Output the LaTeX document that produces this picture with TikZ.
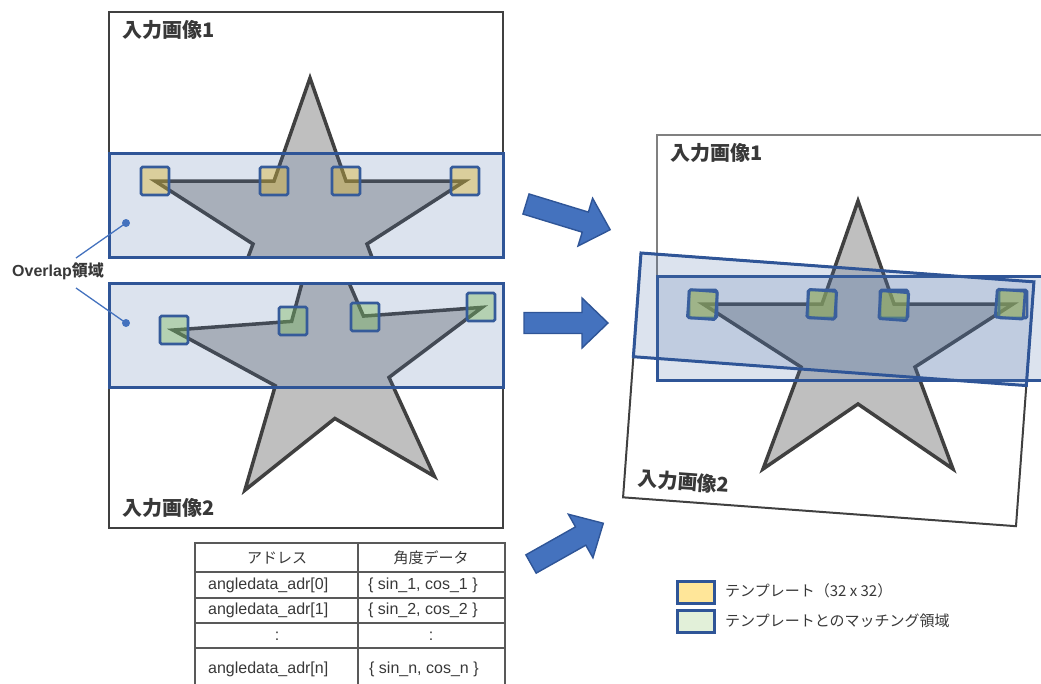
\documentclass[tikz,border=0pt]{standalone}
\usepackage{fontspec}
\setmainfont{Liberation Sans}
\newfontfamily\jp{Noto Sans CJK JP}
\definecolor{starfill}{RGB}{191,191,191}
\definecolor{staredge}{RGB}{64,64,64}
\definecolor{ovfill}{RGB}{80,115,170}
\definecolor{ovedge}{RGB}{47,85,151}
\definecolor{tplY}{RGB}{249,192,0}
\definecolor{tplG}{RGB}{132,200,70}
\definecolor{arrfill}{RGB}{68,114,190}
\definecolor{txtgray}{RGB}{56,56,56}
\definecolor{framegray}{RGB}{128,128,128}
\definecolor{tblline}{RGB}{89,89,89}
\definecolor{legY}{RGB}{255,230,153}
\definecolor{legG}{RGB}{226,240,217}
\newcommand{\starshape}[1]{\path[#1] (201,66) -- (237,169) -- (356,169) -- (258,232) -- (296,334) -- (201,269) -- (106,334) -- (144,232) -- (46,169) -- (165,169) -- cycle;}
\newcommand{\blockarrow}[3]{%
  \begin{scope}[shift={(#1)}, rotate=#2]
    \path[arrsty] (0,-10.5) -- ({#3-26},-10.5) -- ({#3-26},-25) -- (#3,0) -- ({#3-26},25) -- ({#3-26},10.5) -- (0,10.5) -- cycle;
  \end{scope}}
\tikzset{
  starsty/.style={fill=starfill, draw=staredge, line width=3.5pt, line join=miter, miter limit=20},
  ovsty/.style={fill=ovfill, fill opacity=0.2, draw=ovedge, line width=3pt},
  tplsq/.style={draw=ovedge, line width=2.8pt, rounded corners=1.5pt, minimum size=28pt, inner sep=0pt, fill opacity=0.4},
  framesty/.style={draw=staredge, line width=2pt},
  titlesty/.style={text=txtgray, font=\jp\bfseries\fontsize{20}{24}\selectfont, inner sep=0pt, anchor=west},
  arrsty/.style={fill=arrfill, draw=ovedge, line width=1.4pt, line join=miter},
  ptr/.style={draw=arrfill, line width=1.3pt},
  tbl/.style={draw=tblline, line width=2.2pt},
  celltxt/.style={text=txtgray, font=\fontsize{16}{19}\selectfont, inner sep=0pt},
  jptxt/.style={text=txtgray, font=\jp\fontsize{15}{18}\selectfont, inner sep=0pt},
  legbox/.style={draw=ovedge, line width=3pt, minimum width=37pt, minimum height=22pt, inner sep=0pt},
}
\begin{document}
\begin{tikzpicture}[x=1pt, y=-1pt]
\useasboundingbox (0,0) rectangle (1041,683);

% ---------- left panel: image 1 ----------
\begin{scope}[shift={(109,12)}]
  \draw[framesty] (0,0) rectangle (394,245);
  \begin{scope}
    \clip (0,0) rectangle (394,245);
    \starshape{starsty}
  \end{scope}
  \node[tplsq, fill=tplY] (a1) at (46,169) {};
  \node[tplsq, fill=tplY] (a2) at (165,169) {};
  \node[tplsq, fill=tplY] (a3) at (237,169) {};
  \node[tplsq, fill=tplY] (a4) at (356,169) {};
  \path[ovsty] (0,141) rectangle (394,245);
  \node[titlesty] (t1) at (13,18) {入力画像1};
\end{scope}

% ---------- left panel: image 2 ----------
\begin{scope}[shift={(109,283)}]
  \draw[framesty] (0,0) rectangle (394,245);
  \begin{scope}
    \clip (0,0) rectangle (394,245);
    \begin{scope}[shift={(211,-67)}, rotate=4.2, shift={(-201,-66)}]
      \starshape{starsty}
    \end{scope}
  \end{scope}
  \node[tplsq, fill=tplG] (b1) at (65,47) {};
  \node[tplsq, fill=tplG] (b2) at (184,38) {};
  \node[tplsq, fill=tplG] (b3) at (256,34) {};
  \node[tplsq, fill=tplG] (b4) at (372,24) {};
  \path[ovsty] (0,0) rectangle (394,104);
  \node[titlesty] (t2) at (13,225) {入力画像2};
\end{scope}

% ---------- overlap label ----------
\node[text=txtgray, font=\bfseries\fontsize{16}{19}\selectfont, inner sep=0pt] (ovl) at (58,271) {Overlap{\jp 領域}};
\coordinate (p1) at (76,258);
\coordinate (q1) at (126,223);
\coordinate (p2) at (76,288);
\coordinate (q2) at (126,323);
\draw[ptr] (p1) -- (q1);
\draw[ptr] (p2) -- (q2);
\fill[arrfill] (q1) circle (4);
\fill[arrfill] (q2) circle (4);

% ---------- arrows ----------
\blockarrow{526,204}{-17}{88}
\blockarrow{524,323}{0}{84}
\blockarrow{531,564}{29.4}{83}

% ---------- right panel ----------
\draw[framesty, draw=framegray] (657,135) rectangle (1051,380);
\begin{scope}[shift={(641,253)}, rotate=-4.2]
  \draw[framesty] (0,0) rectangle (394,245);
\end{scope}
\begin{scope}[shift={(657,135)}]
  \starshape{starsty}
  \node[tplsq, fill=tplY] (c1) at (46,169) {};
  \node[tplsq, fill=tplY] (c2) at (165,169) {};
  \node[tplsq, fill=tplY] (c3) at (237,169) {};
  \node[tplsq, fill=tplY] (c4) at (356,169) {};
\end{scope}
\begin{scope}[shift={(641,253)}, rotate=-4.2]
  \node[tplsq, fill=tplG, transform shape] (d1) at (65,47) {};
  \node[tplsq, fill=tplG, transform shape] (d2) at (184,38) {};
  \node[tplsq, fill=tplG, transform shape] (d3) at (256,34) {};
  \node[tplsq, fill=tplG, transform shape] (d4) at (372,24) {};
\end{scope}
\path[ovsty] (657,276) rectangle (1051,380);
\begin{scope}[shift={(641,253)}, rotate=-4.2]
  \path[ovsty] (0,0) rectangle (394,104);
  \node[titlesty, transform shape] (t4) at (13,225) {入力画像2};
\end{scope}
\node[titlesty] (t3) at (670,153) {入力画像1};

% ---------- table ----------
\draw[tbl] (195,543) rectangle (505,700);
\draw[tbl] (195,572) -- (505,572);
\draw[tbl] (195,598) -- (505,598);
\draw[tbl] (195,623) -- (505,623);
\draw[tbl] (195,648) -- (505,648);
\draw[tbl] (358,543) -- (358,700);
\node[jptxt] (h1) at (277,558) {アドレス};
\node[jptxt] (h2) at (431,558) {角度データ};
\node[celltxt, anchor=west] (r1a) at (208,585) {angledata\_adr[0]};
\node[celltxt, anchor=west] (r1b) at (368,585) {\{ sin\_1, cos\_1 \}};
\node[celltxt, anchor=west] (r2a) at (208,610) {angledata\_adr[1]};
\node[celltxt, anchor=west] (r2b) at (368,610) {\{ sin\_2, cos\_2 \}};
\node[celltxt] (r3a) at (277,636) {:};
\node[celltxt] (r3b) at (431,636) {:};
\node[celltxt, anchor=west] (r4a) at (208,669) {angledata\_adr[n]};
\node[celltxt, anchor=west] (r4b) at (369,669) {\{ sin\_n, cos\_n \}};

% ---------- legend ----------
\node[legbox, fill=legY] (ly) at (696,592) {};
\node[legbox, fill=legG] (lg) at (696,621.5) {};
\node[jptxt, anchor=west] (lyt) at (725,591) {テンプレート（32 x 32）};
\node[jptxt, anchor=west] (lgt) at (725,621) {テンプレートとのマッチング領域};
\end{tikzpicture}
\end{document}
